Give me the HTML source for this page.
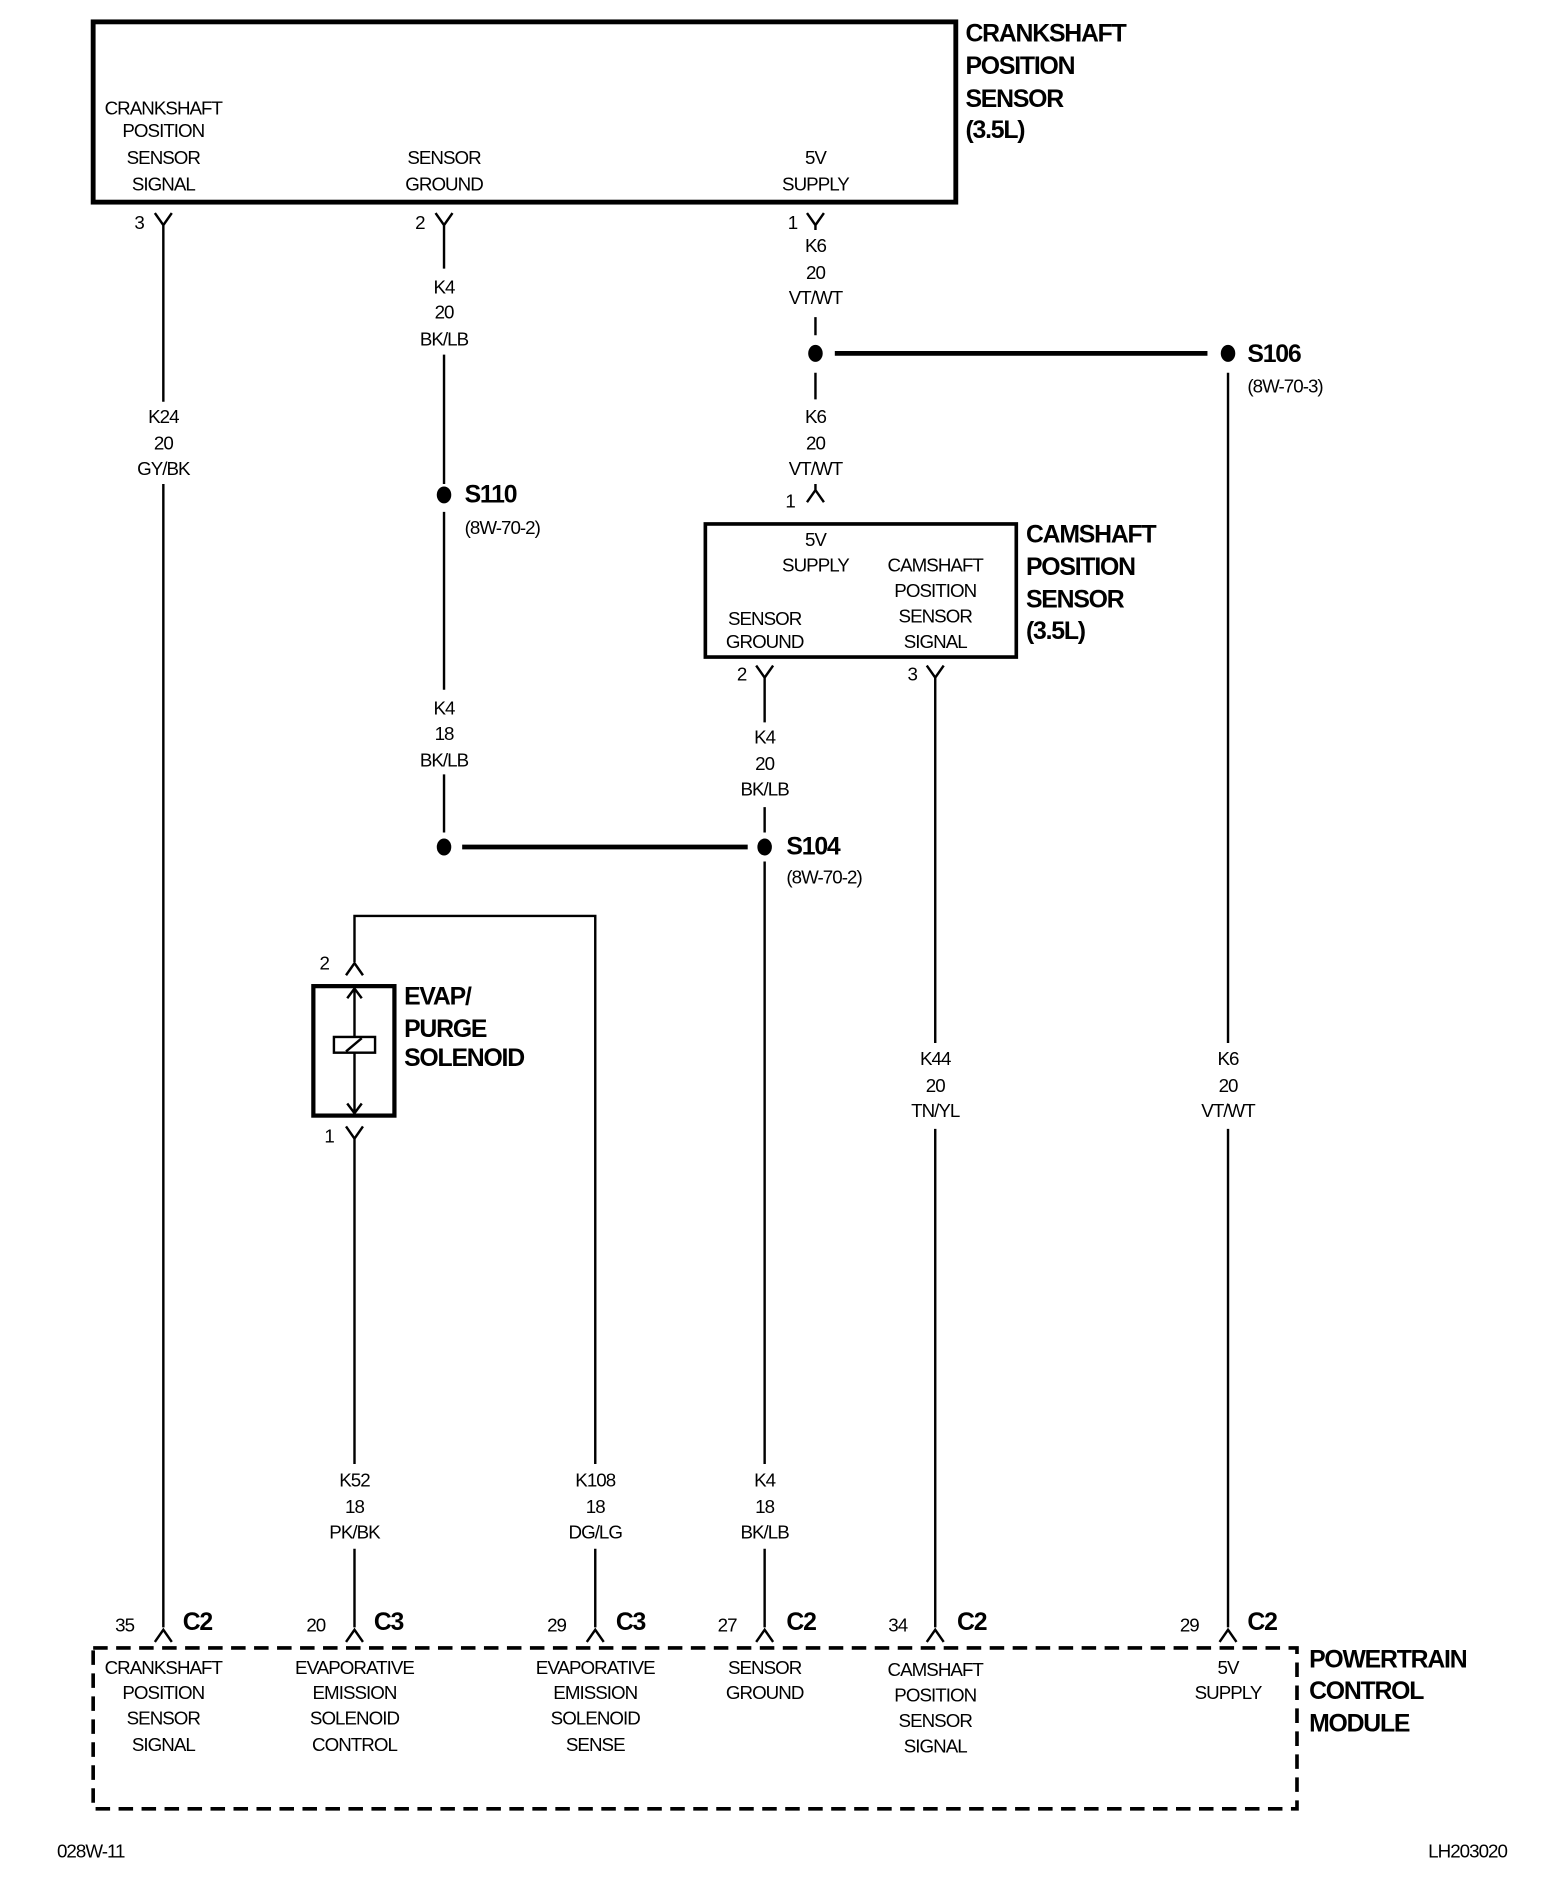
<!DOCTYPE html>
<html><head><meta charset="utf-8"><style>
html,body{margin:0;padding:0;background:#fff}
svg{display:block}
text{font-family:"Liberation Sans Narrow","Liberation Sans",sans-serif;font-size:15.5px;letter-spacing:-0.8px;fill:#000;text-anchor:middle;dominant-baseline:central}
.b{font-weight:bold;font-size:20.5px;letter-spacing:-1px;text-anchor:start}
.s{text-anchor:start}
</style></head><body>
<svg width="1568" height="1890" viewBox="0 0 1296 1562" xmlns="http://www.w3.org/2000/svg">
<g stroke="#000" fill="none" stroke-width="2">
<rect x="77" y="18" width="713" height="149" stroke-width="4"/>
<path d="M128,176 L135,186 L142,176 M135,186 V332 M135,400 V1345"/>
<path d="M360,176 L367,186 L374,176 M367,186 V222 M367,293 V400 M367,423 V570 M367,640 V688"/>
<path d="M667,176 L674,186 L681,176 M674,186 V190 M674,262 V277 M674,308 V330 M674,400 V405 M667,415 L674,405 L681,415"/>
<rect x="583" y="433" width="257" height="110" stroke-width="3"/>
<path d="M625,550 L632,560 L639,550 M632,560 V597 M632,667 V688 M632,712 V1210 M632,1280 V1345"/>
<path d="M766,550 L773,560 L780,550 M773,560 V862 M773,933 V1345"/>
<path d="M1015,308 V862 M1015,933 V1345"/>
<path d="M293,795 V757 H492 V1210 M492,1280 V1345"/>
<path d="M286,806 L293,796 L300,806"/>
<rect x="259" y="815" width="67" height="107" stroke-width="3.5"/>
<path d="M293,817 V920 M287,825 L293,817 L299,825 M287,912 L293,920 L299,912"/>
<rect x="276" y="857" width="34" height="13" fill="#fff"/>
<path d="M286,869 L299,858"/>
<path d="M286,931 L293,941 L300,931 M293,941 V1210 M293,1280 V1345"/>
<path d="M128,1357 L135,1347 L142,1357 M286,1357 L293,1347 L300,1357 M485,1357 L492,1347 L499,1357 M625,1357 L632,1347 L639,1357 M766,1357 L773,1347 L780,1357 M1008,1357 L1015,1347 L1022,1357"/>
<path d="M690,292 H998 M382,700 H618" stroke-width="4"/>
<rect x="77" y="1362" width="995" height="133" stroke-width="3" stroke-dasharray="12 7"/>
</g>
<g fill="#000">
<ellipse cx="674" cy="292" rx="6" ry="7"/>
<ellipse cx="1015" cy="292" rx="6" ry="7"/>
<ellipse cx="367" cy="409" rx="6" ry="7"/>
<ellipse cx="367" cy="700" rx="6" ry="7"/>
<ellipse cx="632" cy="700" rx="6" ry="7"/>
</g>
<text class="b" x="798" y="28">CRANKSHAFT</text>
<text class="b" x="798" y="55">POSITION</text>
<text class="b" x="798" y="82">SENSOR</text>
<text class="b" x="798" y="108">(3.5L)</text>
<text class="b" x="848" y="442">CAMSHAFT</text>
<text class="b" x="848" y="469">POSITION</text>
<text class="b" x="848" y="496">SENSOR</text>
<text class="b" x="848" y="522">(3.5L)</text>
<text class="b" x="334" y="824">EVAP/</text>
<text class="b" x="334" y="851">PURGE</text>
<text class="b" x="334" y="875">SOLENOID</text>
<text class="b" x="1082" y="1372">POWERTRAIN</text>
<text class="b" x="1082" y="1398">CONTROL</text>
<text class="b" x="1082" y="1425">MODULE</text>
<text class="b" x="1031" y="293">S106</text>
<text class="s" x="1031" y="319">(8W-70-3)</text>
<text class="b" x="384" y="409">S110</text>
<text class="s" x="384" y="436">(8W-70-2)</text>
<text class="b" x="650" y="700">S104</text>
<text class="s" x="650" y="725">(8W-70-2)</text>
<text x="135" y="89">CRANKSHAFT</text><text x="135" y="108">POSITION</text><text x="135" y="130">SENSOR</text><text x="135" y="152">SIGNAL</text>
<text x="367" y="130">SENSOR</text><text x="367" y="152">GROUND</text>
<text x="674" y="130">5V</text><text x="674" y="152">SUPPLY</text>
<text x="115" y="184">3</text><text x="347" y="184">2</text><text x="655" y="184">1</text>
<text x="135" y="344">K24</text><text x="135" y="366">20</text><text x="135" y="387">GY/BK</text>
<text x="367" y="237">K4</text><text x="367" y="258">20</text><text x="367" y="280">BK/LB</text>
<text x="674" y="203">K6</text><text x="674" y="225">20</text><text x="674" y="246">VT/WT</text>
<text x="674" y="344">K6</text><text x="674" y="366">20</text><text x="674" y="387">VT/WT</text>
<text x="653" y="414">1</text>
<text x="367" y="585">K4</text><text x="367" y="606">18</text><text x="367" y="628">BK/LB</text>
<text x="674" y="446">5V</text><text x="674" y="467">SUPPLY</text>
<text x="773" y="467">CAMSHAFT</text><text x="773" y="488">POSITION</text><text x="773" y="509">SENSOR</text><text x="773" y="530">SIGNAL</text>
<text x="632" y="511">SENSOR</text><text x="632" y="530">GROUND</text>
<text x="613" y="557">2</text><text x="754" y="557">3</text>
<text x="632" y="609">K4</text><text x="632" y="631">20</text><text x="632" y="652">BK/LB</text>
<text x="773" y="875">K44</text><text x="773" y="897">20</text><text x="773" y="918">TN/YL</text>
<text x="1015" y="875">K6</text><text x="1015" y="897">20</text><text x="1015" y="918">VT/WT</text>
<text x="268" y="796">2</text><text x="272" y="939">1</text>
<text x="293" y="1223">K52</text><text x="293" y="1245">18</text><text x="293" y="1266">PK/BK</text>
<text x="492" y="1223">K108</text><text x="492" y="1245">18</text><text x="492" y="1266">DG/LG</text>
<text x="632" y="1223">K4</text><text x="632" y="1245">18</text><text x="632" y="1266">BK/LB</text>
<text x="103" y="1343">35</text><text x="261" y="1343">20</text><text x="460" y="1343">29</text><text x="601" y="1343">27</text><text x="742" y="1343">34</text><text x="983" y="1343">29</text>
<text class="b" x="151" y="1341">C2</text><text class="b" x="309" y="1341">C3</text><text class="b" x="509" y="1341">C3</text><text class="b" x="650" y="1341">C2</text><text class="b" x="791" y="1341">C2</text><text class="b" x="1031" y="1341">C2</text>
<text x="135" y="1378">CRANKSHAFT</text><text x="135" y="1399">POSITION</text><text x="135" y="1420">SENSOR</text><text x="135" y="1442">SIGNAL</text>
<text x="293" y="1378">EVAPORATIVE</text><text x="293" y="1399">EMISSION</text><text x="293" y="1420">SOLENOID</text><text x="293" y="1442">CONTROL</text>
<text x="492" y="1378">EVAPORATIVE</text><text x="492" y="1399">EMISSION</text><text x="492" y="1420">SOLENOID</text><text x="492" y="1442">SENSE</text>
<text x="632" y="1378">SENSOR</text><text x="632" y="1399">GROUND</text>
<text x="773" y="1380">CAMSHAFT</text><text x="773" y="1401">POSITION</text><text x="773" y="1422">SENSOR</text><text x="773" y="1443">SIGNAL</text>
<text x="1015" y="1378">5V</text><text x="1015" y="1399">SUPPLY</text>
<text x="75" y="1530">028W-11</text>
<text x="1213" y="1530">LH203020</text>
</svg>
</body></html>
